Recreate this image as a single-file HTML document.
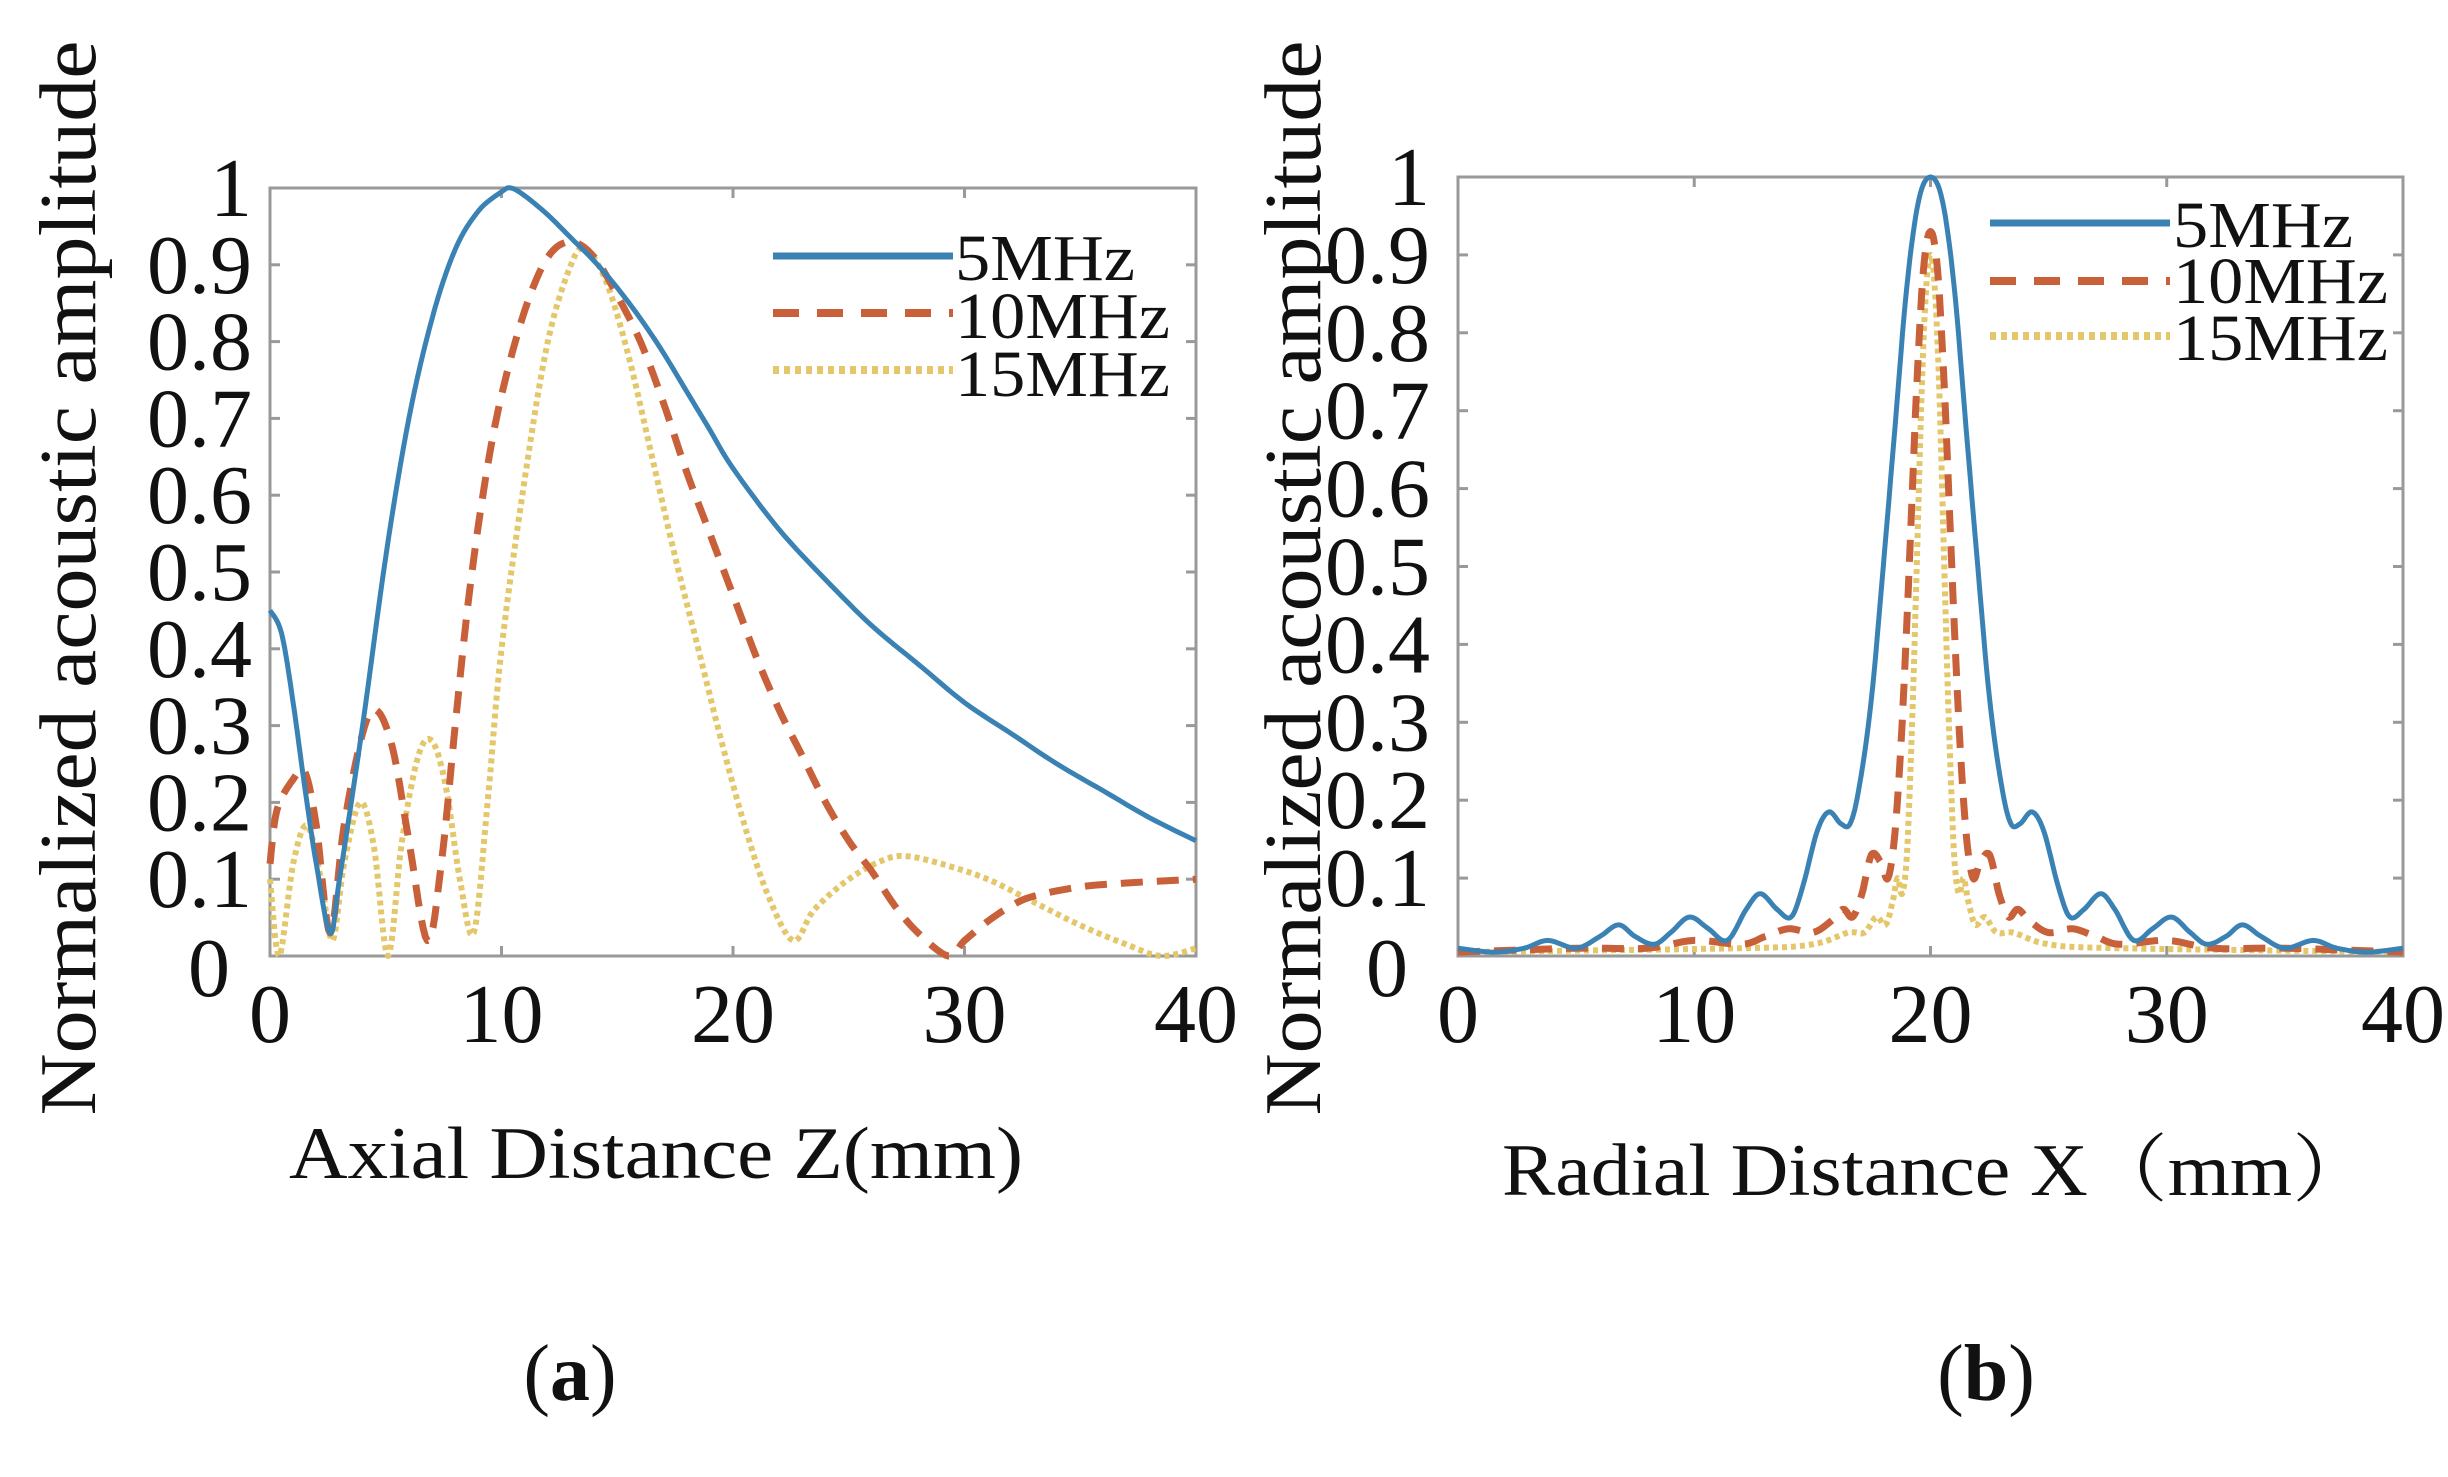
<!DOCTYPE html>
<html><head><meta charset="utf-8"><style>
html,body{margin:0;padding:0;background:#fff;}
svg{display:block;}
text{font-family:"Liberation Serif","Noto Serif CJK SC",serif;fill:#111;}
</style></head><body>
<svg id="s" width="2448" height="1477" viewBox="0 0 2448 1477" xmlns="http://www.w3.org/2000/svg">
<rect width="2448" height="1477" fill="#fff"/>
<g id="g"></g>
<text transform="translate(95,578) rotate(-90)" font-size="80" text-anchor="middle" textLength="1075" lengthAdjust="spacingAndGlyphs">Normalized acoustic amplitude</text>
<text transform="translate(1320,578) rotate(-90)" font-size="80" text-anchor="middle" textLength="1075" lengthAdjust="spacingAndGlyphs">Normalized acoustic amplitude</text>
<text x="656" y="1178" font-size="74" text-anchor="middle" textLength="734" lengthAdjust="spacingAndGlyphs">Axial Distance Z(mm)</text>
<text x="1502" y="1195" font-size="74" textLength="870" lengthAdjust="spacingAndGlyphs">Radial Distance X（mm）</text>
<text x="570" y="1400" font-size="80" text-anchor="middle">(<tspan font-weight="bold">a</tspan>)</text>
<text x="1986" y="1400" font-size="80" text-anchor="middle">(<tspan font-weight="bold">b</tspan>)</text>
<line x1="773" y1="256" x2="953" y2="256" stroke="#3b82b4" stroke-width="7"/>
<line x1="773" y1="313" x2="953" y2="313" stroke="#c8603a" stroke-width="8" stroke-dasharray="26,18"/>
<line x1="773" y1="370" x2="953" y2="370" stroke="#e3c76a" stroke-width="8" stroke-dasharray="6,5"/>
<text x="955" y="280" font-size="66" textLength="180" lengthAdjust="spacingAndGlyphs">5MHz</text>
<text x="955" y="338" font-size="66" textLength="215" lengthAdjust="spacingAndGlyphs">10MHz</text>
<text x="955" y="396" font-size="66" textLength="215" lengthAdjust="spacingAndGlyphs">15MHz</text>
<line x1="1990" y1="223" x2="2170" y2="223" stroke="#3b82b4" stroke-width="7"/>
<line x1="1990" y1="281" x2="2170" y2="281" stroke="#c8603a" stroke-width="8" stroke-dasharray="26,18"/>
<line x1="1990" y1="336" x2="2170" y2="336" stroke="#e3c76a" stroke-width="8" stroke-dasharray="6,5"/>
<text x="2173" y="247" font-size="66" textLength="180" lengthAdjust="spacingAndGlyphs">5MHz</text>
<text x="2173" y="303" font-size="66" textLength="215" lengthAdjust="spacingAndGlyphs">10MHz</text>
<text x="2173" y="360" font-size="66" textLength="215" lengthAdjust="spacingAndGlyphs">15MHz</text>
</svg>
<script>
var NS="http://www.w3.org/2000/svg",g=document.getElementById('g');
function el(t,a,txt){var e=document.createElementNS(NS,t);for(var k in a)e.setAttribute(k,a[k]);if(txt!=null)e.textContent=txt;g.appendChild(e);return e;}
function panel(P,series,yl){
 var X=function(v){return P.x0+(P.x1-P.x0)*v/40},Y=function(v){return P.y0-(P.y0-P.y1)*v};
 el('rect',{x:P.x0,y:P.y1,width:P.x1-P.x0,height:P.y0-P.y1,fill:'none',stroke:'#999','stroke-width':3});
 for(var i=0;i<=10;i++){var y=Y(i/10);
  el('line',{x1:P.x0,y1:y,x2:P.x0+10,y2:y,stroke:'#999','stroke-width':3});
  el('line',{x1:P.x1,y1:y,x2:P.x1-10,y2:y,stroke:'#999','stroke-width':3});
  var lab=i==0?'0':(i==10?'1':'0.'+i);
  if(i==0) el('text',{x:yl-22,y:y+40,'font-size':84,'text-anchor':'end'},lab);
  else el('text',{x:yl,y:y+28,'font-size':84,'text-anchor':'end'},lab);}
 for(var j=0;j<=4;j++){var x=X(j*10);
  el('line',{x1:x,y1:P.y0,x2:x,y2:P.y0-10,stroke:'#999','stroke-width':3});
  el('line',{x1:x,y1:P.y1,x2:x,y2:P.y1+10,stroke:'#999','stroke-width':3});
  el('text',{x:x,y:P.y0+86,'font-size':84,'text-anchor':'middle'},String(j*10));}
 series.forEach(function(s){
  var d=s.pts.map(function(p,i){return (i?'L':'M')+X(p[0]).toFixed(1)+','+Y(p[1]).toFixed(1)}).join('');
  var a={d:d,fill:'none',stroke:s.c,'stroke-width':s.w,'stroke-linejoin':'round'};
  if(s.da)a['stroke-dasharray']=s.da;el('path',a);});
}
function sm(pts){
 var o=[];for(var i=0;i<pts.length-1;i++){var p0=pts[Math.max(0,i-1)],p1=pts[i],p2=pts[i+1],p3=pts[Math.min(pts.length-1,i+2)];
  for(var t=0;t<1;t+=0.125){var t2=t*t,t3=t2*t;
   var f=function(k){return 0.5*((2*p1[k])+(-p0[k]+p2[k])*t+(2*p0[k]-5*p1[k]+4*p2[k]-p3[k])*t2+(-p0[k]+3*p1[k]-3*p2[k]+p3[k])*t3)};
   o.push([f(0),Math.max(0,f(1))]);}}
 o.push(pts[pts.length-1]);return o;}
function mir(h){var o=[];for(var i=h.length-1;i>0;i--)o.push([20-h[i][0],h[i][1]]);h.forEach(function(p){o.push([20+p[0],p[1]])});return o;}
var B='#3b82b4',R='#c8603a',Yc='#e3c76a';
var bL=[[0,0.45],[0.5,0.42],[1,0.33],[1.5,0.22],[2,0.12],[2.6,0.03],[3,0.1],[4,0.3],[5,0.52],[6,0.7],[7,0.83],[8,0.92],[9,0.97],[10,0.995],[10.4,1.0],[11,0.99],[12,0.965],[13,0.935],[14,0.905],[15,0.87],[16,0.83],[17,0.785],[18,0.735],[19,0.685],[20,0.635],[22,0.555],[24,0.49],[26,0.43],[28,0.38],[30,0.33],[32,0.29],[34,0.25],[36,0.215],[38,0.18],[40,0.15]];
var rL=[[0,0.12],[0.3,0.19],[1,0.23],[1.5,0.24],[2,0.17],[2.6,0.03],[3.2,0.17],[4,0.29],[4.6,0.32],[5.3,0.27],[6,0.15],[6.8,0.02],[7.4,0.12],[8,0.3],[8.6,0.47],[9.3,0.62],[10,0.73],[11,0.84],[12,0.91],[13,0.93],[14,0.91],[15,0.86],[16,0.8],[17,0.72],[18,0.63],[19,0.55],[20,0.47],[21,0.39],[22,0.32],[23,0.26],[24,0.2],[25,0.15],[26,0.11],[27,0.065],[28,0.03],[29.3,0.0],[30,0.02],[31,0.045],[32,0.065],[33,0.078],[35,0.09],[37,0.095],[40,0.1]];
var yL=[[0,0.1],[0.4,0.0],[1,0.12],[1.6,0.17],[2.2,0.1],[2.7,0.02],[3.2,0.12],[3.9,0.2],[4.5,0.14],[5.1,0.0],[5.7,0.15],[6.4,0.26],[7,0.28],[7.6,0.22],[8.2,0.1],[8.8,0.03],[9.4,0.2],[10,0.4],[11,0.62],[12,0.8],[13,0.9],[13.6,0.92],[14.5,0.88],[15.5,0.78],[16.5,0.65],[17.5,0.52],[18.5,0.4],[19.5,0.28],[20.5,0.17],[21.5,0.08],[22.6,0.02],[23.5,0.06],[25,0.1],[26.5,0.125],[27.5,0.13],[29,0.12],[31,0.1],[33,0.07],[35,0.04],[37,0.015],[38.5,0.0],[40,0.01]];
panel({x0:270,x1:1196,y0:956,y1:188},[
 {pts:sm(yL),c:Yc,w:6,da:'5,4'},{pts:sm(rL),c:R,w:7,da:'22,14'},{pts:sm(bL),c:B,w:5}],252);
var bR=[[0,1],[0.5,0.97],[1,0.86],[1.5,0.68],[2,0.5],[2.5,0.33],[3,0.22],[3.4,0.17],[3.8,0.17],[4.3,0.185],[4.8,0.16],[5.4,0.09],[5.9,0.05],[6.5,0.06],[7.2,0.08],[7.8,0.06],[8.6,0.02],[9.4,0.035],[10.2,0.05],[11,0.03],[11.7,0.015],[12.5,0.025],[13.2,0.04],[14,0.025],[15,0.01],[16.2,0.02],[17.2,0.01],[18.5,0.005],[20,0.01]];
var rR=[[0,0.93],[0.3,0.88],[0.6,0.72],[0.9,0.5],[1.2,0.3],[1.5,0.16],[1.8,0.1],[2.1,0.12],[2.5,0.13],[2.9,0.08],[3.3,0.05],[3.7,0.06],[4.2,0.045],[5,0.03],[6,0.035],[7,0.025],[8,0.015],[10,0.02],[12,0.01],[15,0.01],[20,0.005]];
var yR=[[0,0.9],[0.2,0.85],[0.4,0.7],[0.6,0.48],[0.8,0.28],[1.0,0.13],[1.2,0.08],[1.4,0.1],[1.6,0.07],[1.9,0.04],[2.3,0.05],[2.8,0.03],[3.5,0.03],[5,0.015],[8,0.01],[20,0.005]];
panel({x0:1458,x1:2403,y0:956,y1:177},[
 {pts:sm(mir(yR)),c:Yc,w:6,da:'5,4'},{pts:sm(mir(rR)),c:R,w:7,da:'22,14'},{pts:sm(mir(bR)),c:B,w:5}],1430);
</script>
</body></html>
